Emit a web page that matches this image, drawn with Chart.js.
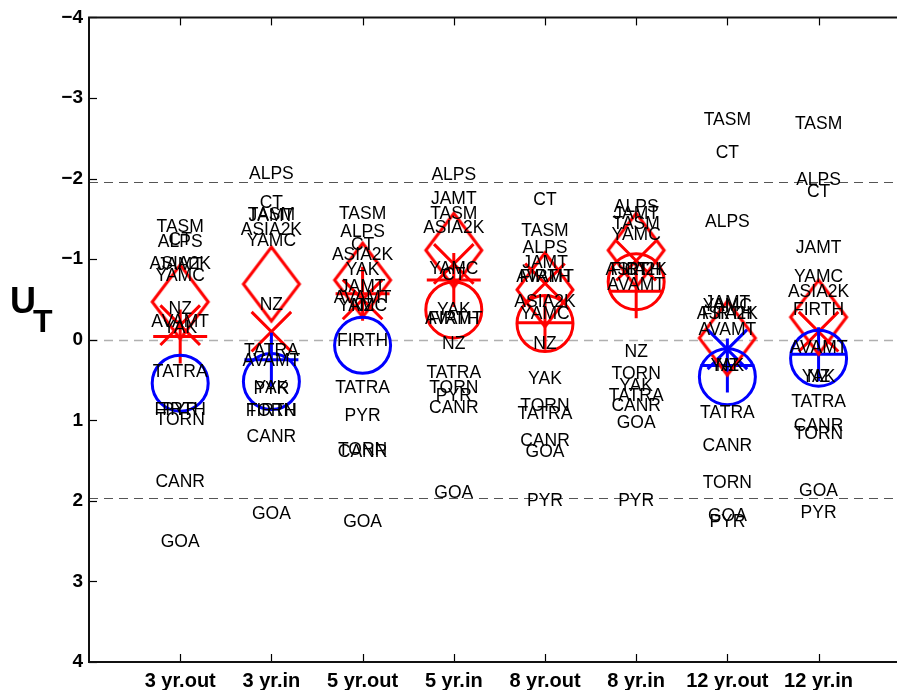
<!DOCTYPE html>
<html>
<head>
<meta charset="utf-8">
<script src="https://cdn.jsdelivr.net/npm/chart.js@4"></script>
<style>
html,body{margin:0;padding:0;background:#fff;overflow:hidden;}
canvas{display:block;}
</style>
</head>
<body>
<canvas id="c" width="897" height="690"></canvas>
<script>
// ---- categories & ticks ----
const categories = ['3 yr.out','3 yr.in','5 yr.out','5 yr.in','8 yr.out','8 yr.in','12 yr.out','12 yr.in'];
const yTicks = [-4,-3,-2,-1,0,1,2,3,4];
const sigLevels = [-1.96, 1.96];
const zeroLevel = [0];

// ---- station values (U_T) per category ----
const TASM  = [-1.40,-1.55,-1.56,-1.56,-1.35,-1.44,-2.72,-2.68];
const ALPS  = [-1.21,-2.05,-1.33,-2.04,-1.14,-1.64,-1.46,-1.98];
const CT    = [-1.23,-1.70,-1.17,-0.80,-1.73,-0.86,-2.32,-1.83];
const ASIA2K= [-0.94,-1.36,-1.05,-1.38,-0.47,-0.86,-0.32,-0.59];
const JAMT  = [-0.92,-1.53,-0.65,-1.75,-0.95,-1.56,-0.45,-1.13];
const YAMC  = [-0.79,-1.22,-0.41,-0.88,-0.32,-1.30,-0.42,-0.78];
const NZ    = [-0.38,-0.43,-0.41, 0.05, 0.05, 0.15, 0.33, 0.47];
const AVAMT = [-0.22, 0.27,-0.51,-0.26,-0.77,-0.68,-0.12, 0.11];
const YAK   = [-0.14, 0.60,-0.86,-0.37, 0.49, 0.58, 0.33, 0.47];
const FIRTH = [ 0.87, 0.89, 0.02,-0.26,-0.77,-0.86,-0.32,-0.37];
const TATRA = [ 0.40, 0.14, 0.60, 0.41, 0.93, 0.70, 0.91, 0.78];
const TORN  = [ 1.00, 0.89, 1.37, 0.60, 0.83, 0.43, 1.78, 1.17];
const PYR   = [ 0.88, 0.61, 0.95, 0.70, 2.01, 2.01, 2.26, 2.15];
const CANR  = [ 1.77, 1.21, 1.40, 0.85, 1.26, 0.83, 1.32, 1.07];
const GOA   = [ 2.51, 2.16, 2.27, 1.90, 1.39, 1.03, 2.19, 1.88];

const stationNames = ['TASM','ALPS','CT','ASIA2K','JAMT','YAMC','NZ','AVAMT','YAK','FIRTH','TATRA','TORN','PYR','CANR','GOA'];
const stationValues = [TASM,ALPS,CT,ASIA2K,JAMT,YAMC,NZ,AVAMT,YAK,FIRTH,TATRA,TORN,PYR,CANR,GOA];

// ---- group markers ----
const circleMean  = [ 0.54, 0.52, 0.07,-0.37,-0.20,-0.72, 0.46, 0.23];
const diamondMean = [-0.47,-0.69,-0.74,-1.11,-0.62,-1.11,-0.02,-0.28];
const plusMean    = [-0.04, 0.25,-0.57,-0.74,-0.21,-0.60, 0.32, 0.18];
const xMean       = [-0.18,-0.10,-0.50,-0.94,-0.70,-0.98, 0.12,-0.10];

const RED = '#ff0000', BLUE = '#0000ff';
const toPts = arr => arr.map((v,i)=>({x:i+1, y:v}));
const signColor = ctx => (ctx.raw && ctx.raw.y < 0) ? RED : BLUE;

// diamond marker image (taller than wide)
function diamondImg(color){
  const hw = 28, hh = 37, pad = 3;
  const c = document.createElement('canvas');
  c.width = 2*hw+2*pad; c.height = 2*hh+2*pad;
  const g = c.getContext('2d');
  g.strokeStyle = color; g.lineWidth = 3; g.lineJoin='miter';
  g.beginPath();
  g.moveTo(pad+hw, pad); g.lineTo(pad+2*hw, pad+hh);
  g.lineTo(pad+hw, pad+2*hh); g.lineTo(pad, pad+hh); g.closePath();
  g.stroke();
  return c;
}
const diamondRed = diamondImg(RED);

const fmt = v => v < 0 ? '\u2212' + Math.abs(v) : String(v);

const decoPlugin = {
  id:'deco',
  beforeDatasetsDraw(chart){
    const {ctx, chartArea:a, scales:{y}} = chart;
    ctx.save();
    ctx.setLineDash([9,6]);
    ctx.lineWidth = 1.2;
    ctx.strokeStyle = '#555';
    sigLevels.forEach(v=>{
      const py = Math.round(y.getPixelForValue(v))+0.5;
      ctx.beginPath(); ctx.moveTo(a.left, py); ctx.lineTo(a.right, py); ctx.stroke();
    });
    ctx.strokeStyle = '#b0b0b0';
    ctx.lineWidth = 1.5;
    zeroLevel.forEach(v=>{
      const py = Math.round(y.getPixelForValue(v))+0.5;
      ctx.beginPath(); ctx.moveTo(a.left, py); ctx.lineTo(a.right, py); ctx.stroke();
    });
    ctx.restore();
  },
  afterDatasetsDraw(chart){
    const {ctx, scales:{x,y}} = chart;
    ctx.save();
    ctx.font = '17.5px "Liberation Sans", Arial, Helvetica, sans-serif';
    ctx.fillStyle = '#000';
    ctx.textAlign = 'center';
    ctx.textBaseline = 'middle';
    stationValues.forEach((vals, s)=>{
      vals.forEach((v,i)=>{
        ctx.fillText(stationNames[s], x.getPixelForValue(i+1), y.getPixelForValue(v));
      });
    });
    ctx.restore();
  },
  afterDraw(chart){
    const {ctx, chartArea:a, scales:{x,y}} = chart;
    ctx.save();
    // ticks
    ctx.strokeStyle = '#000'; ctx.lineWidth = 1.2;
    yTicks.forEach(v=>{
      const py = Math.round(y.getPixelForValue(v))+0.5;
      ctx.beginPath(); ctx.moveTo(a.left, py); ctx.lineTo(a.left+8, py); ctx.stroke();
    });
    categories.forEach((c,i)=>{
      const px = Math.round(x.getPixelForValue(i+1))+0.5;
      ctx.beginPath(); ctx.moveTo(px, a.bottom); ctx.lineTo(px, a.bottom-8); ctx.stroke();
      ctx.beginPath(); ctx.moveTo(px, a.top); ctx.lineTo(px, a.top+8); ctx.stroke();
    });
    // box
    ctx.lineWidth = 2; ctx.strokeStyle = '#111';
    ctx.beginPath();
    ctx.moveTo(a.right+2, a.top); ctx.lineTo(a.left, a.top); ctx.lineTo(a.left, a.bottom); ctx.lineTo(a.right+2, a.bottom);
    ctx.stroke();
    // y-axis title U_T
    ctx.fillStyle = '#000';
    ctx.textAlign = 'left'; ctx.textBaseline = 'alphabetic';
    ctx.font = 'bold 36px "Liberation Sans", Arial, Helvetica, sans-serif';
    ctx.fillText('U', 10, 313);
    ctx.font = 'bold 32px "Liberation Sans", Arial, Helvetica, sans-serif';
    ctx.fillText('T', 33, 332);
    ctx.restore();
  }
};

new Chart(document.getElementById('c'), {
  type:'scatter',
  data:{
    datasets:[
      {label:'circle', data:toPts(circleMean), pointStyle:'circle', pointRadius:28, pointHoverRadius:28,
       borderColor:signColor, backgroundColor:'rgba(0,0,0,0)', pointBorderWidth:3, borderWidth:3},
      {label:'diamond', data:toPts(diamondMean), pointStyle:diamondRed, pointRadius:28, pointHoverRadius:28},
      {label:'plus', data:toPts(plusMean), pointStyle:'cross', pointRadius:27, pointHoverRadius:27,
       borderColor:signColor, backgroundColor:'rgba(0,0,0,0)', pointBorderWidth:3, borderWidth:3},
      {label:'x', data:toPts(xMean), pointStyle:'crossRot', pointRadius:28, pointHoverRadius:28,
       borderColor:signColor, backgroundColor:'rgba(0,0,0,0)', pointBorderWidth:3, borderWidth:3}
    ]
  },
  options:{
    responsive:false, animation:false,
    layout:{autoPadding:false, padding:{top:14,left:0,right:0,bottom:0}},
    plugins:{legend:{display:false}, tooltip:{enabled:false}},
    scales:{
      x:{type:'linear', min:0, max:8.86,
         grid:{display:false, drawTicks:false}, border:{display:false},
         afterBuildTicks:s=>{ s.ticks = categories.map((c,i)=>({value:i+1})); },
         afterFit:s=>{ s.height = 28; },
         ticks:{padding:7, color:'#000', maxRotation:0, autoSkip:false,
                font:{family:'"Liberation Sans", Arial, Helvetica, sans-serif', size:20, weight:'bold'},
                callback:v=>categories[v-1] ?? ''}},
      y:{type:'linear', reverse:true, min:-4, max:4,
         grid:{display:false, drawTicks:false}, border:{display:false},
         afterBuildTicks:s=>{ s.ticks = yTicks.map(v=>({value:v})); },
         afterFit:s=>{ s.width = 89; },
         ticks:{padding:6, color:'#000',
                font:{family:'"Liberation Sans", Arial, Helvetica, sans-serif', size:19, weight:'bold'},
                callback:v=>fmt(v)}}
    }
  },
  plugins:[decoPlugin]
});
</script>
</body>
</html>
